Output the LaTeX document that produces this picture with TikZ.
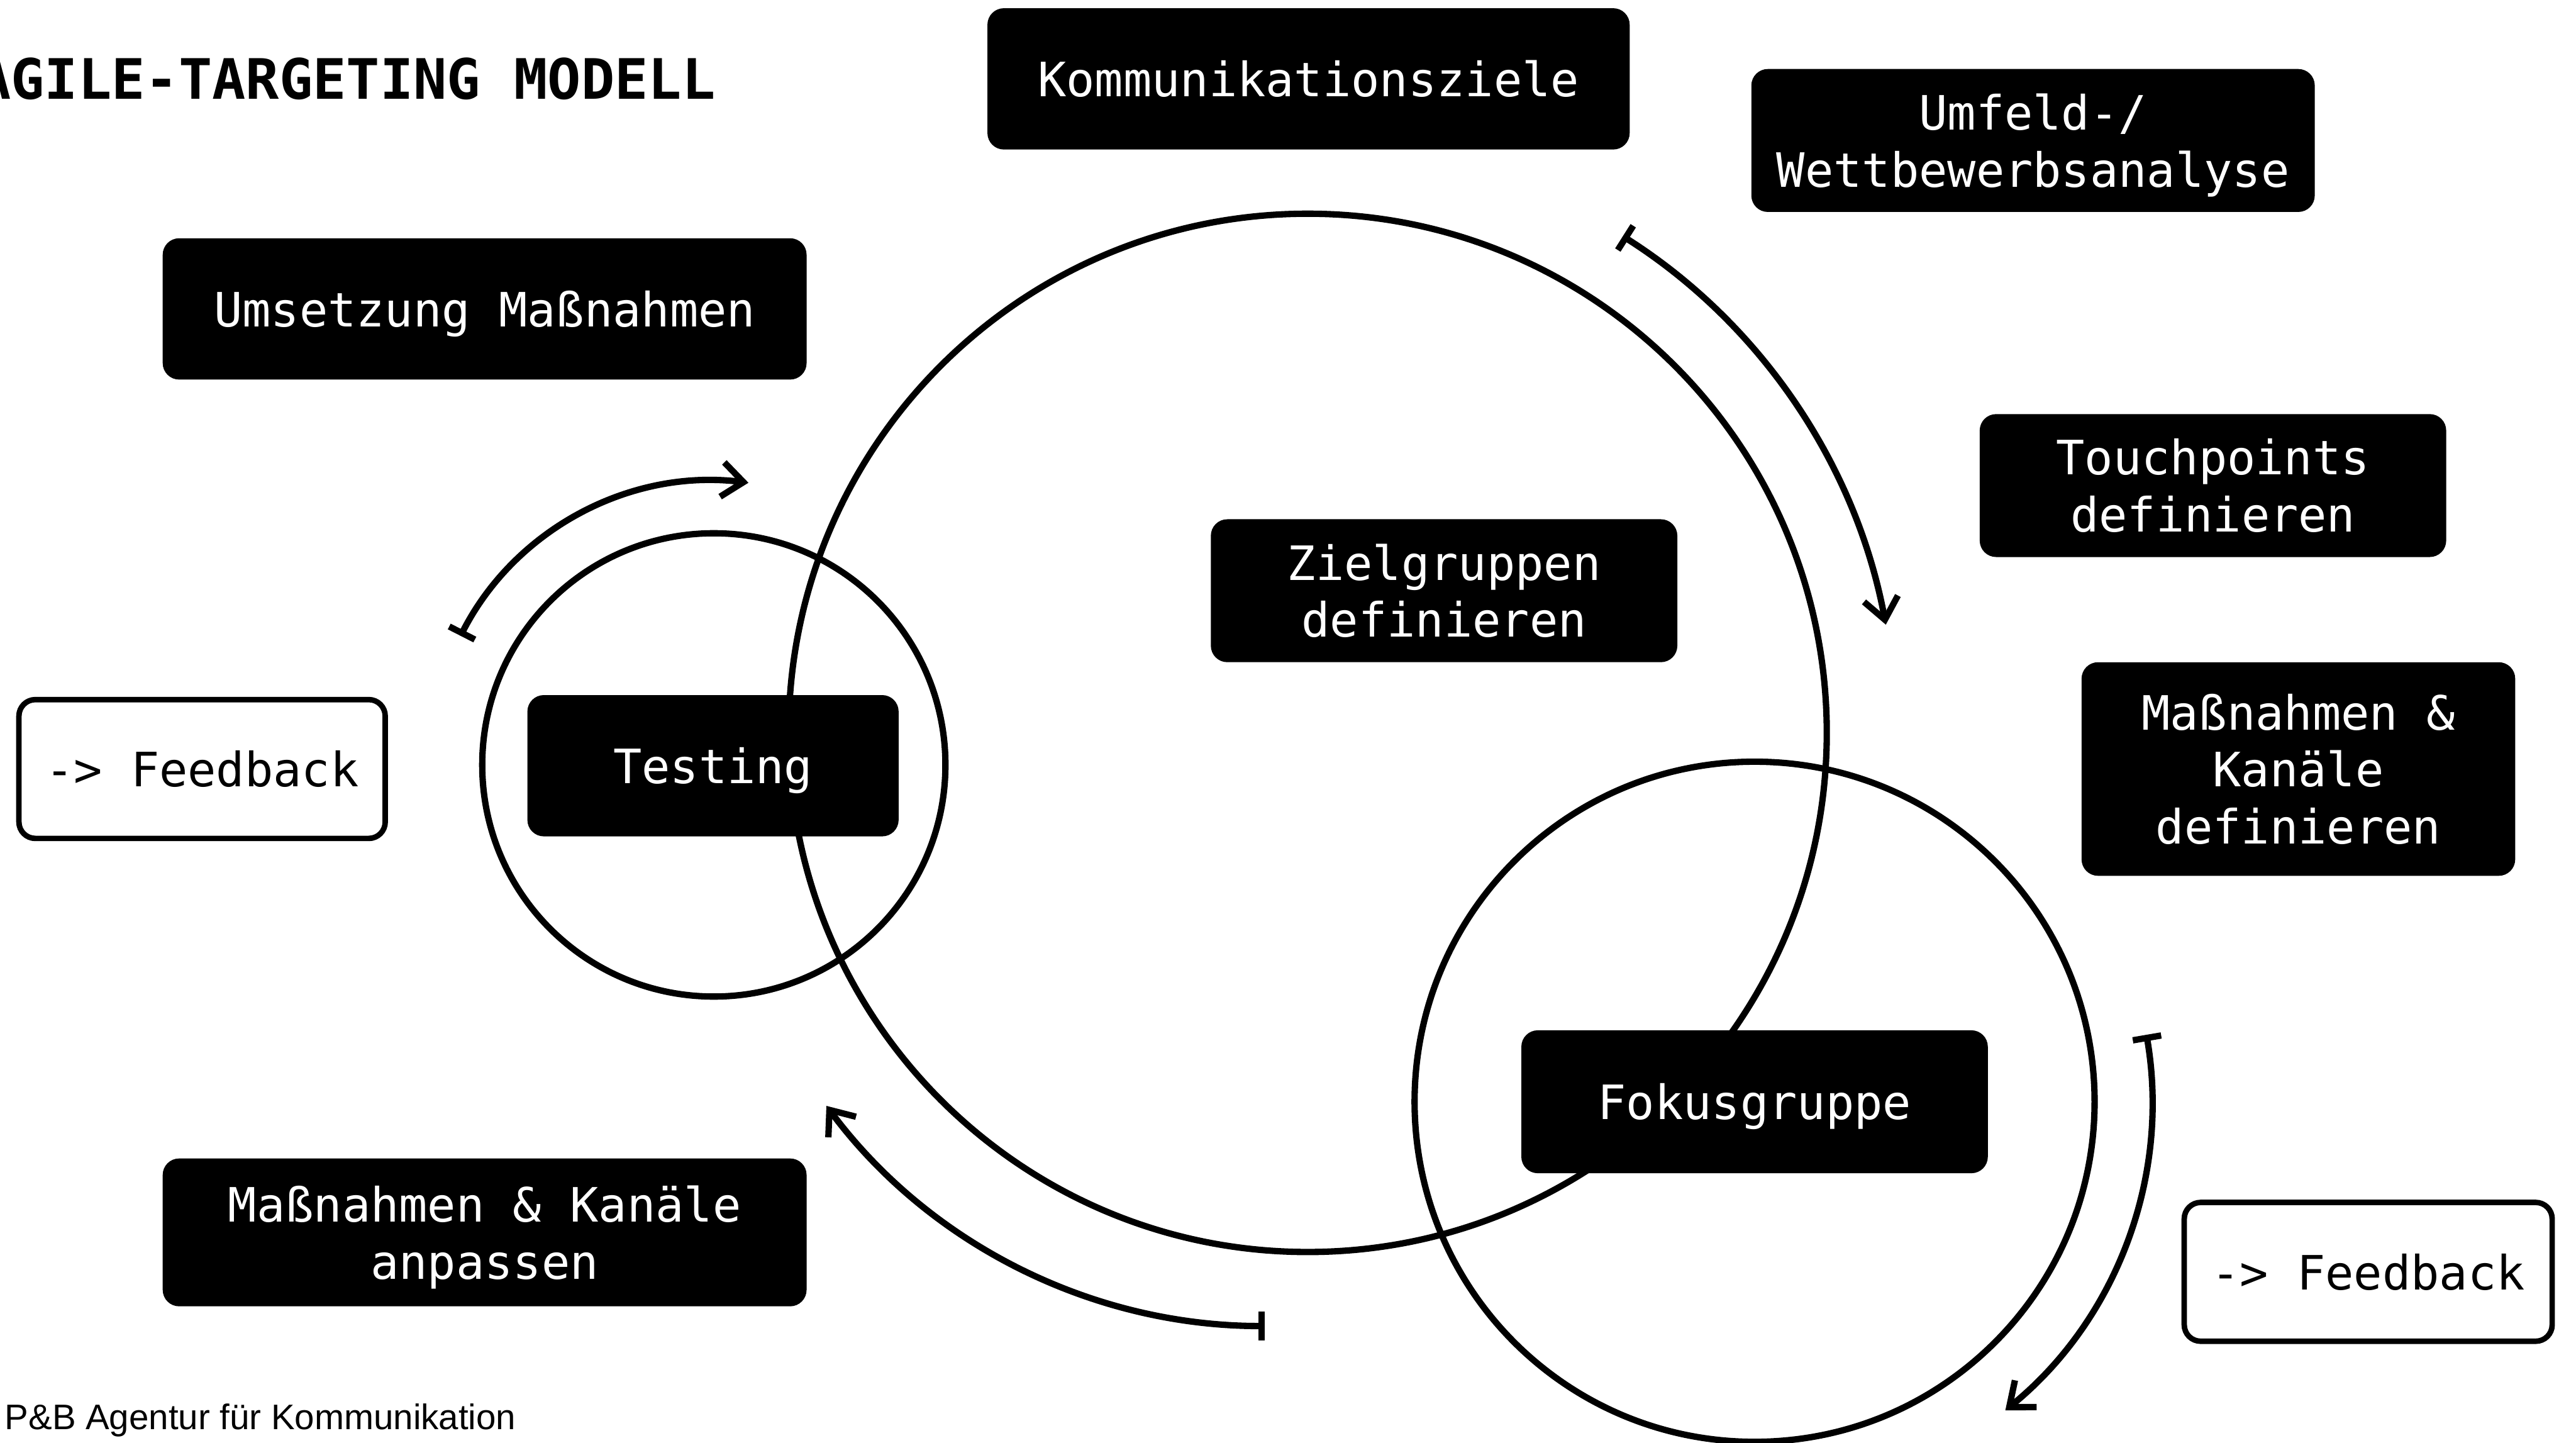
\documentclass[tikz,border=0pt]{standalone}
\usepackage{fontspec}
\usetikzlibrary{arrows.meta,calc}

\newfontfamily\monofont{DejaVu Sans Mono}
\newfontfamily\footfont{Liberation Sans}
% same line box for every label, descenders or not (#1 = number of lines)
\newcommand\boxtopstrut[1]{\rule{0pt}{\dimexpr16.9pt+19.8pt*(#1-1)\relax}}
\newcommand\boxbotstrut{\rule[-4.5pt]{0pt}{4.5pt}}

\begin{document}
\begin{tikzpicture}[
		x=0.02cm, y=-0.02cm,
		blk/.style={fill=black, text=white, rounded corners=0.2cm, align=center,
			inner sep=0pt, font=\monofont\fontsize{16.4}{19.8}\selectfont,
			execute at begin node=\boxtopstrut{#1}, execute at end node=\boxbotstrut},
		blk/.default=1,
		fbk/.style={draw=black, line width=1.9pt, fill=white, rounded corners=0.2cm,
			align=center, inner sep=0pt, font=\monofont\fontsize{16.4}{19.8}\selectfont,
			execute at begin node=\boxtopstrut{1}, execute at end node=\boxbotstrut},
		ringline/.style={draw, circle, line width=2.2pt, inner sep=0pt},
		cycarrow/.style={line width=2.2pt,
			{Bar[width=0.35cm]}-{Straight Barb[length=0.26cm, width=0.42cm]}},
	]
	\useasboundingbox (0,0) rectangle (1568,878);

	% circles
	\node[ringline, minimum size=12.64cm] (big) at (796,446) {};
	\node[ringline, minimum size=5.64cm] (tc) at (434.5,465.5) {};
	\node[ringline, minimum size=8.28cm] (fc) at (1068,670.5) {};

	% cycle arrows
	\draw[cycarrow] ($(tc.center)+(-153:173)$) arc[start angle=-153, end angle=-83, radius=173];
	\draw[cycarrow] ($(big.center)+(-57.6:358)$) arc[start angle=-57.6, end angle=-10.6, radius=358];
	\coordinate (back) at ($(big.center)+(-26,361)$);
	\draw[cycarrow] (back) arc[start angle=90, end angle=143.3, radius=333];
	\draw[cycarrow] ($(fc.center)+(-9.7:242)$) arc[start angle=-9.7, end angle=50.9, radius=242];

	% steps
	\node[blk, minimum width=7.82cm, minimum height=1.72cm] (kz) at (796.5,48) {Kommunikationsziele};
	\node[blk=2, minimum width=6.86cm, minimum height=1.74cm] (uw) at (1237.5,85.5) {Umfeld-/\\Wettbewerbsanalyse};
	\node[blk, minimum width=7.84cm, minimum height=1.72cm] (um) at (295,188) {Umsetzung Maßnahmen};
	\node[blk=2, minimum width=5.68cm, minimum height=1.74cm] (tp) at (1347,295.5) {Touchpoints\\definieren};
	\node[blk=2, minimum width=5.68cm, minimum height=1.74cm] (zg) at (879,359.5) {Zielgruppen\\definieren};
	\node[blk, minimum width=4.52cm, minimum height=1.72cm] (te) at (434,466) {Testing};
	\node[blk=3, minimum width=5.28cm, minimum height=2.60cm] (mk) at (1399,468) {Maßnahmen \&\\Kanäle\\definieren};
	\node[blk, minimum width=5.68cm, minimum height=1.74cm] (fg) at (1068,670.5) {Fokusgruppe};
	\node[blk=2, minimum width=7.84cm, minimum height=1.80cm] (ma) at (295,750) {Maßnahmen \& Kanäle\\anpassen};
	\node[fbk, minimum width=4.46cm, minimum height=1.69cm] (fbl) at (123,468) {-> Feedback};
	\node[fbk, minimum width=4.48cm, minimum height=1.69cm] (fbr) at (1441.5,774) {-> Feedback};

	\node[anchor=base west, inner sep=0pt, font=\monofont\bfseries\fontsize{19.3}{23}\selectfont]
		(title) at (-14,60.3) {AGILE-TARGETING MODELL};
	\node[anchor=base west, inner sep=0pt, font=\footfont\fontsize{12.3}{14}\selectfont]
		(foot) at (2.6,870) {P\&B Agentur für Kommunikation};
\end{tikzpicture}
\end{document}
